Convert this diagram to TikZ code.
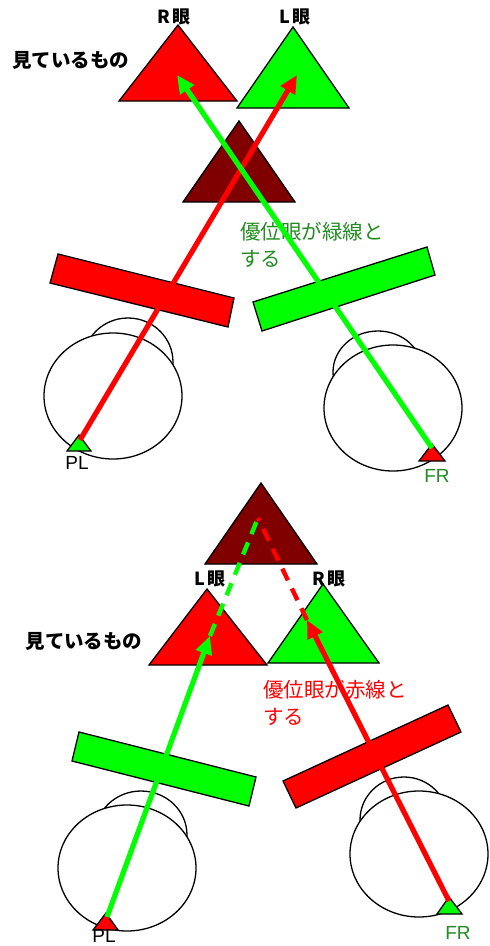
\documentclass[tikz,border=0pt]{standalone}
\usepackage{fontspec}
\setmainfont{Liberation Sans}
\newfontfamily\jpfont{Noto Sans CJK JP}
\usetikzlibrary{arrows.meta}
\definecolor{pr}{RGB}{255,0,0}
\definecolor{pg}{RGB}{0,255,0}
\definecolor{dr}{RGB}{128,0,0}
\definecolor{tg}{RGB}{34,139,34}
\begin{document}
\begin{tikzpicture}[x=1pt,y=-1pt,
  outline/.style={draw=black, line width=1.3pt, line join=miter},
  eye/.style={outline, fill=white},
  ray/.style={line width=5.2pt, -{Triangle[length=18pt,width=16pt]}},
  hidden/.style={line width=4.4pt, dash pattern=on 13pt off 9pt},
  eyelabel/.style={font=\jpfont\bfseries\fontsize{18}{18}\selectfont, inner sep=0pt},
  seen/.style={font=\jpfont\bfseries\fontsize{19.5}{19.5}\selectfont, inner sep=0pt},
  note/.style={font=\jpfont\fontsize{20.5}{27}\selectfont, inner sep=0pt, align=left, anchor=north west},
  marklabel/.style={font=\fontsize{19}{19}\selectfont, inner sep=0pt}]
\useasboundingbox (0,0) rectangle (490,946);

% ---------- upper case: dominant eye on the green line ----------
\node[eyelabel] (rtop) at (174,17) {R\,眼};
\node[eyelabel] (ltop) at (295,17) {L\,眼};
\node[seen] (seentop) at (71,60) {見ているもの};

\draw[outline, fill=pr] (178,25) -- (237,101) -- (119,101) -- cycle;
\draw[outline, fill=pg] (293,27) -- (349,108) -- (237,108) -- cycle;
\draw[outline, fill=dr] (239,121) -- (295,202) -- (183,202) -- cycle;

\node[note, text=tg] (notetop) at (240,222) {優位眼が緑線と\\する};

% filters
\draw[outline, fill=pr] (58,254) -- (234,298) -- (228,327) -- (50,283) -- cycle;
\draw[outline, fill=pg] (253,302) -- (427,247) -- (435,275) -- (262,331) -- cycle;

% heads
\draw[eye] (128,362) ellipse [x radius=45, y radius=44];
\draw[eye] (113,396) ellipse [x radius=69, y radius=63];
\draw[eye] (378,372) ellipse [x radius=45, y radius=41];
\draw[eye] (393,408) ellipse [x radius=69, y radius=63];

% fixation marks
\draw[outline, fill=pg] (79,435) -- (91,451) -- (67,451) -- cycle;
\draw[outline, fill=pr] (432,444) -- (445,461) -- (419,461) -- cycle;
\coordinate (pltop) at (80,440);
\coordinate (frtop) at (432,448);
\coordinate (tgtR) at (177,75);
\coordinate (tgtL) at (297,75);
\node[marklabel] (pllabel) at (77,463) {PL};
\node[marklabel, text=tg] (frlabel) at (437,476) {FR};

\draw[ray, pr] (pltop) -- (tgtL);
\draw[ray, pg] (frtop) -- (tgtR);

% ---------- lower case: dominant eye on the red line ----------
\draw[outline, fill=dr] (261,483) -- (317,564) -- (205,564) -- cycle;
\draw[outline, fill=pr] (207,589) -- (267,665) -- (149,665) -- cycle;
\draw[outline, fill=pg] (323,584) -- (379,663) -- (268,663) -- cycle;

\node[eyelabel] (lbot) at (210,579) {L\,眼};
\node[eyelabel] (rbot) at (329,579) {R\,眼};
\node[seen] (seenbot) at (84,641) {見ているもの};

\node[note, text=pr] (notebot) at (263,680) {優位眼が赤線と\\する};

\coordinate (apex) at (258,518);
\coordinate (tgtG) at (210,636);
\coordinate (tgtP) at (307,620);
\draw[hidden, pg] (tgtG) -- (apex);
\draw[hidden, pr] (tgtP) -- (apex);

% filters
\draw[outline, fill=pg] (79,732) -- (256,777) -- (249,806) -- (72,761) -- cycle;
\draw[outline, fill=pr] (283,781) -- (448,705) -- (461,732) -- (296,808) -- cycle;

% heads
\draw[eye] (141,835) ellipse [x radius=46, y radius=44];
\draw[eye] (127,868) ellipse [x radius=69, y radius=63];
\draw[eye] (404,820) ellipse [x radius=44, y radius=43];
\draw[eye] (419,854) ellipse [x radius=69, y radius=63];

% fixation marks
\draw[outline, fill=pr] (106,913) -- (118,930) -- (93,930) -- cycle;
\draw[outline, fill=pg] (449,897) -- (462,914) -- (437,914) -- cycle;
\coordinate (plbot) at (107,917);
\coordinate (frbot) at (449,901);
\node[marklabel] (pllabelb) at (104,936) {PL};
\node[marklabel, text=tg] (frlabelb) at (458,933) {FR};

\draw[ray, pg] (plbot) -- (tgtG);
\draw[ray, pr] (frbot) -- (tgtP);
\end{tikzpicture}
\end{document}
